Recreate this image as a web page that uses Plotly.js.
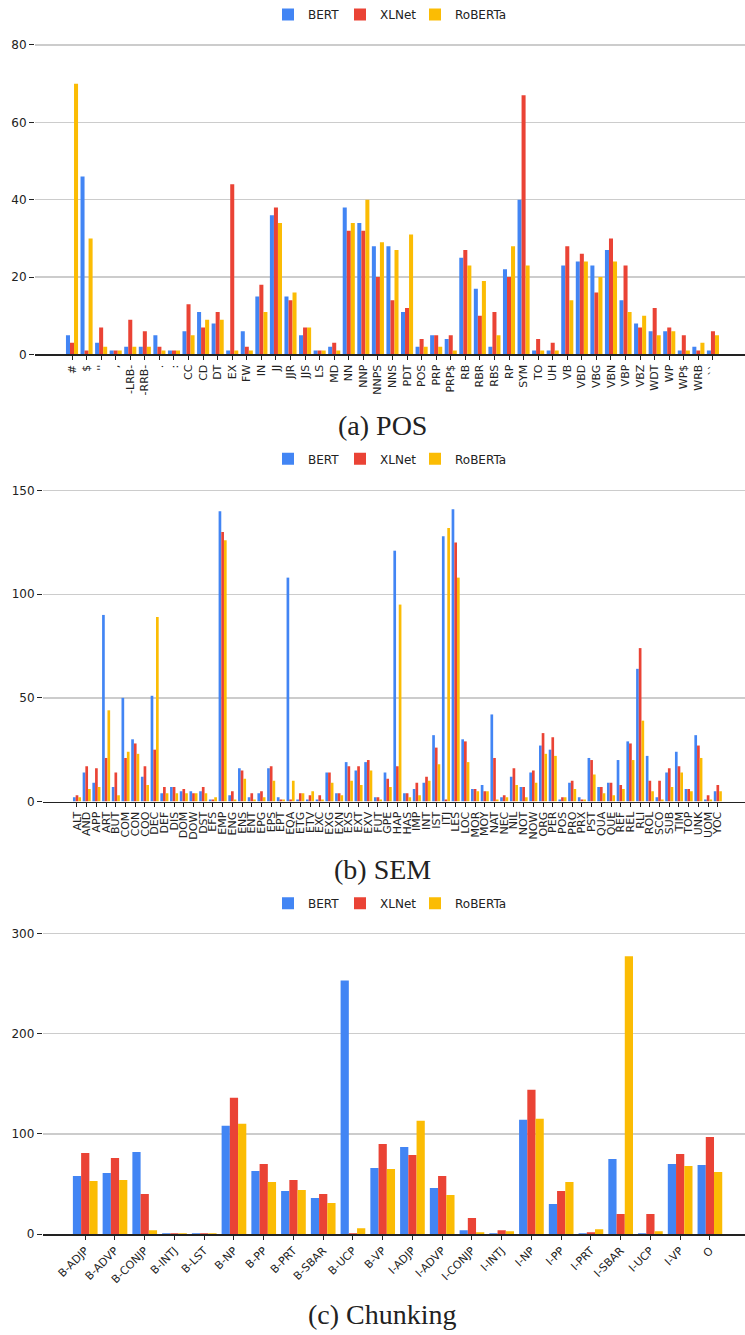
<!DOCTYPE html>
<html>
<head>
<meta charset="utf-8">
<script src="https://cdn.plot.ly/plotly-3.0.1.min.js"></script>
<style>html,body{margin:0;padding:0;background:#fff;}#chart{width:745px;height:1335px;}</style>
</head>
<body>
<div id="chart"></div>
<script>
// ---------- POS ----------
const posCats = ["#","$","''",",","-LRB-","-RRB-",".",":","CC","CD","DT","EX","FW","IN","JJ","JJR","JJS","LS","MD","NN","NNP","NNPS","NNS","PDT","POS","PRP","PRP$","RB","RBR","RBS","RP","SYM","TO","UH","VB","VBD","VBG","VBN","VBP","VBZ","WDT","WP","WP$","WRB","``"];
const posBERT =    [5,46,3,1,2,2,5,1,6,11,8,1,6,15,36,15,5,1,2,38,34,28,28,11,2,5,4,25,17,2,22,40,1,1,23,24,23,27,14,8,6,6,1,2,1];
const posXLNet =   [3,1,7,1,9,6,2,1,13,7,11,44,2,18,38,14,7,1,3,32,32,20,14,12,4,5,5,27,10,11,20,67,4,3,28,26,16,30,23,7,12,7,5,1,6];
const posRoBERTa = [70,30,2,1,2,2,1,1,5,9,9,1,1,11,34,16,7,1,1,34,40,29,27,31,2,2,1,23,19,5,28,23,1,1,14,24,20,24,11,10,5,6,1,3,5];

// ---------- SEM ----------
const semCats = ["ALT","AND","APP","ART","BUT","COM","CON","COO","DEC","DEF","DIS","DOM","DOW","DST","EFS","EMP","ENG","ENS","ENT","EPG","EPS","EPT","EQA","ETG","ETV","EXC","EXG","EXN","EXS","EXT","EXV","FUT","GPE","HAP","HAS","IMP","INT","IST","ITJ","LES","LOC","MOR","MOY","NAT","NEC","NIL","NOT","NOW","ORG","PER","POS","PRO","PRX","PST","QUA","QUE","REF","REL","RLI","ROL","SCO","SUB","TIM","TOP","UNK","UOM","YOC"];
const semBERT =    [2,14,9,90,7,50,30,12,51,4,7,5,5,5,1,140,3,16,2,4,16,2,108,1,1,1,14,4,19,15,19,2,14,121,4,6,9,32,128,141,30,6,8,42,2,12,7,14,27,25,1,9,2,21,7,9,20,29,64,22,2,14,24,6,32,1,5];
const semXLNet =   [3,17,16,21,14,21,28,17,25,7,7,6,4,7,1,130,5,15,4,5,17,1,1,4,3,3,14,4,17,17,20,2,11,17,4,9,12,26,1,125,29,6,5,21,3,16,7,15,33,31,2,10,1,20,7,9,8,28,74,10,10,16,17,6,27,3,8];
const semRoBERTa = [2,6,7,44,3,24,23,8,89,4,4,4,4,4,2,126,1,11,1,2,10,1,10,4,5,1,9,3,10,8,15,1,7,95,2,3,10,18,132,108,19,5,5,1,2,8,2,9,23,22,2,6,1,13,4,3,6,20,39,5,1,7,14,5,21,1,5];

// ---------- Chunking ----------
const chkCats = ["B-ADJP","B-ADVP","B-CONJP","B-INTJ","B-LST","B-NP","B-PP","B-PRT","B-SBAR","B-UCP","B-VP","I-ADJP","I-ADVP","I-CONJP","I-INTJ","I-NP","I-PP","I-PRT","I-SBAR","I-UCP","I-VP","O"];
const chkBERT =    [58,61,82,1,1,108,63,43,36,253,66,87,46,4,1,114,30,1,75,1,70,69];
const chkXLNet =   [81,76,40,1,1,136,70,54,40,1,90,79,58,16,4,144,43,2,20,20,80,97];
const chkRoBERTa = [53,54,4,1,1,110,52,44,31,6,65,113,39,2,3,115,52,5,277,3,68,62];

const seriesNames = ["BERT","XLNet","RoBERTa"];
const colors = ["#4285F4","#EA4335","#FBBC04"];
const legendWidths = [27, 30, 60];
const captions = ["(a) POS","(b) SEM","(c) Chunking"];

const H = 1335, W = 745;
const fy = px => 1 - px / H;
const fx = px => px / W;

const panels = [
  {cats: posCats, vals: [posBERT, posXLNet, posRoBERTa], ax: "", leg: "legend",
   yr: [0, 82], ydom: [fy(353), fy(353 - 82 * 3.875)], xdom: [fx(35), 1], xr: [-2.54, 46.2],
   dtick: 20, tickangle: -90, legY: 12.5, capY: 424},
  {cats: semCats, vals: [semBERT, semXLNet, semRoBERTa], ax: "2", leg: "legend2",
   yr: [0, 154], ydom: [fy(800.7), fy(800.7 - 154 * 2.076)], xdom: [fx(43), 1], xr: [-3.5, 68.8],
   dtick: 50, tickangle: -90, legY: 457.5, capY: 869},
  {cats: chkCats, vals: [chkBERT, chkXLNet, chkRoBERTa], ax: "3", leg: "legend3",
   yr: [0, 310], ydom: [fy(1234), fy(1234 - 310 * 1.00433)], xdom: [fx(42.7), 1], xr: [-1.43, 22.18],
   dtick: 100, tickangle: -45, legY: 902.5, capY: 1314}
];

const data = [];
const layout = {
  width: W, height: H,
  margin: {l: 0, r: 0, t: 0, b: 0},
  paper_bgcolor: "#fff", plot_bgcolor: "#fff",
  font: {family: "DejaVu Sans, sans-serif", size: 11, color: "#222"},
  barmode: "group",
  bargap: 0.17,
  bargroupgap: 0,
  annotations: []
};

panels.forEach((p, i) => {
  p.vals.forEach((v, s) => {
    data.push({
      type: "bar", x: p.cats, y: v, name: seriesNames[s],
      marker: {color: colors[s], line: {width: 0}},
      xaxis: "x" + p.ax, yaxis: "y" + p.ax, legend: p.leg,
      legendwidth: legendWidths[s],
      hoverinfo: "x+y+name"
    });
  });
  layout["xaxis" + p.ax] = {
    domain: p.xdom, range: p.xr, type: "category", anchor: "y" + p.ax,
    tickmode: "linear", tick0: 0, dtick: 1, tickangle: p.tickangle,
    ticks: "outside", ticklen: 4, tickwidth: 1, tickcolor: "#222",
    showline: true, linecolor: "#222", linewidth: 1.8, showgrid: false,
    tickfont: {size: 11, color: "#222"}, automargin: false, fixedrange: true
  };
  layout["yaxis" + p.ax] = {
    domain: p.ydom, range: p.yr, anchor: "x" + p.ax,
    tickmode: "linear", tick0: 0, dtick: p.dtick,
    ticks: "outside", ticklen: 5, tickwidth: 1, tickcolor: "#222",
    showgrid: true, gridcolor: "#cccccc", gridwidth: 1.3,
    zeroline: false, showline: false,
    tickfont: {size: 12, color: "#222"}, automargin: false, fixedrange: true
  };
  layout[p.leg] = {
    orientation: "h", x: fx(268), xanchor: "left", y: fy(p.legY), yanchor: "middle",
    font: {size: 12, color: "#222"}, bgcolor: "rgba(0,0,0,0)", traceorder: "normal"
  };
  layout.annotations.push({
    text: captions[i], xref: "paper", yref: "paper", x: fx(382), y: fy(p.capY),
    xanchor: "center", yanchor: "middle", showarrow: false,
    font: {family: "Liberation Serif, DejaVu Serif, serif", size: 28, color: "#222"}
  });
});

Plotly.newPlot("chart", data, layout, {displayModeBar: false, staticPlot: true});
</script>
</body>
</html>
